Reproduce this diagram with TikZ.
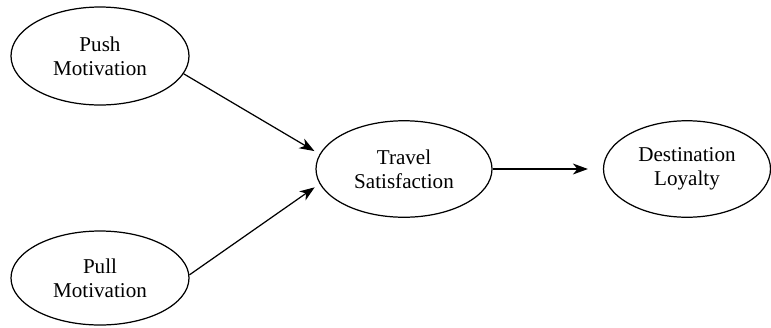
\documentclass[tikz,border=0pt]{standalone}
\usepackage{fontspec}
\setmainfont{Liberation Serif}
\usepackage{tikz}
\usetikzlibrary{shapes}
\usetikzlibrary{shapes.geometric}
\usetikzlibrary{arrows.meta}
\pgfdeclarelayer{edgelayer}
\pgfdeclarelayer{nodelayer}
\pgfsetlayers{edgelayer,nodelayer,main}
\tikzstyle{none}=[inner sep=0pt]
\tikzstyle{construct}=[ellipse, draw, line width=0.7pt, inner sep=0pt, minimum width=3.52cm, minimum height=1.93cm, align=center, font=\fontsize{12}{13.6}\selectfont]
\tikzstyle{path}=[->, line width=0.7pt]

\begin{document}
\begin{tikzpicture}[>={Stealth[length=3mm, width=2.2mm, inset=0.9mm]}]
	\useasboundingbox (0, 0) rectangle (15.42, 6.54);
	\begin{pgfonlayer}{nodelayer}
		\node [style=construct, minimum width=3.56cm, minimum height=1.96cm] (0) at (2.0, 5.42) {Push\\Motivation};
		\node [style=construct, minimum width=3.56cm, minimum height=1.88cm] (1) at (2.0, 0.98) {Pull\\Motivation};
		\node [style=construct] (2) at (8.08, 3.16) {Travel\\Satisfaction};
		\node [style=construct, minimum width=3.34cm] (3) at (13.74, 3.16) {Destination\\Loyalty};
	\end{pgfonlayer}
	\begin{pgfonlayer}{edgelayer}
		\draw [style=path, shorten >=0.12cm] (0.-12) to (2.170);
		\draw [style=path, shorten >=0.12cm] (1.2) to (2.190);
		\draw [style=path, shorten >=0.3cm] (2.east) to (3.west);
	\end{pgfonlayer}
\end{tikzpicture}
\end{document}
